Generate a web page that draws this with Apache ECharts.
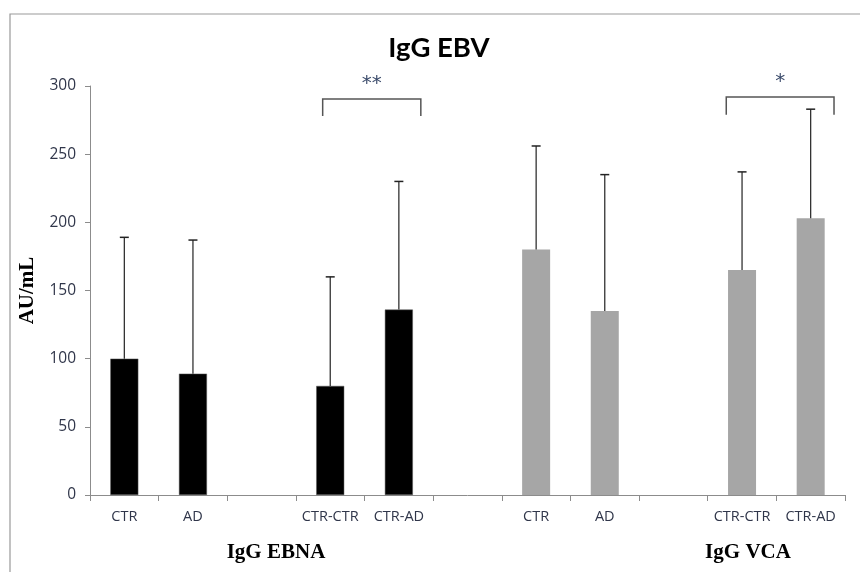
<!DOCTYPE html>
<html><head><meta charset="utf-8">
<script src="https://cdn.jsdelivr.net/npm/echarts@6/dist/echarts.min.js"></script>
<style>html,body{margin:0;padding:0;background:#fff}#c{width:860px;height:572px}</style>
</head><body><div id="c"></div>
<script>
const categories = ['CTR','AD','','CTR-CTR','CTR-AD','','CTR','AD','','CTR-CTR','CTR-AD'];
const ebnaMeans = [100, 89, '-', 80, 136, '-', '-', '-', '-', '-', '-'];
const vcaMeans  = ['-', '-', '-', '-', '-', '-', 180, 135, '-', 165, 203];
const upperErrors = [189, 187, null, 160, 230, null, 256, 235, null, 237, 283];
const yTicks = {min: 0, max: 300, interval: 50};
// brackets: [x start, x end (category units), top value, bottom value, label]
const brackets = [[3.39, 4.82, 290.5, 278, '**'], [9.27, 10.84, 292, 279, '*']];
const title = 'IgG EBV';
const yName = 'AU/mL';
const groupNames = ['IgG EBNA', 'IgG VCA'];

const errData = [];
categories.forEach((c, i) => {
  if (upperErrors[i] != null) {
    const m = ebnaMeans[i] !== '-' ? ebnaMeans[i] : vcaMeans[i];
    errData.push([i, m, upperErrors[i]]);
  }
});

const chart = echarts.init(document.getElementById('c'), null, {renderer: 'canvas'});
const labelFont = '"Open Sans", Lato, sans-serif';
chart.setOption({
  animation: false,
  backgroundColor: '#fff',
  graphic: [
    {type: 'rect', shape: {x: 10, y: 14, width: 900, height: 600}, style: {fill: null, stroke: '#999', lineWidth: 1.2}, silent: true, z: -1},
    {type: 'text', x: 439, y: 48, style: {text: title, align: 'center', verticalAlign: 'middle', font: 'bold 27.5px Lato, sans-serif', fill: '#000'}},
    {type: 'text', x: 276, y: 553, style: {text: groupNames[0], align: 'center', verticalAlign: 'middle', font: 'bold 21px "Liberation Serif", serif', fill: '#000'}},
    {type: 'text', x: 748, y: 553, style: {text: groupNames[1], align: 'center', verticalAlign: 'middle', font: 'bold 21px "Liberation Serif", serif', fill: '#000'}}
  ],
  grid: {left: 90, right: 15, top: 86, bottom: 77},
  xAxis: [{
    type: 'category', data: categories,
    axisLine: {lineStyle: {color: '#8c8c8c', width: 1}},
    axisTick: {show: true, length: 6, alignWithLabel: false, lineStyle: {color: '#8c8c8c'}},
    axisLabel: {interval: 0, margin: 14, fontFamily: labelFont, fontSize: 14.5, color: '#30364a'}
  }, {
    type: 'value', min: 0, max: categories.length, show: false
  }],
  yAxis: {
    type: 'value', min: yTicks.min, max: yTicks.max, interval: yTicks.interval,
    name: yName, nameLocation: 'middle', nameGap: 50, nameRotate: 90,
    nameTextStyle: {fontFamily: '"Liberation Serif", serif', fontWeight: 'bold', fontSize: 21, color: '#000'},
    axisLine: {show: true, lineStyle: {color: '#8c8c8c', width: 1}},
    axisTick: {show: true, length: 5, lineStyle: {color: '#8c8c8c'}},
    splitLine: {show: false},
    axisLabel: {margin: 14, fontFamily: labelFont, fontSize: 15.5, color: '#30364a'}
  },
  series: [
    {type: 'bar', name: 'EBNA', data: ebnaMeans, barWidth: 28, barGap: '-100%',
     itemStyle: {color: '#000', borderColor: '#5a5a5a', borderWidth: 0.5}},
    {type: 'bar', name: 'VCA', data: vcaMeans, barWidth: 28, barGap: '-100%',
     itemStyle: {color: '#a6a6a6'}},
    {type: 'custom', name: 'err', data: errData, z: 5,
     renderItem: (params, api) => {
       const x = api.value(0);
       const b = api.coord([x, api.value(1)]);
       const t = api.coord([x, api.value(2)]);
       return {type: 'group', children: [
         {type: 'line', shape: {x1: b[0], y1: b[1], x2: t[0], y2: t[1]}, style: {stroke: '#222', lineWidth: 1.2}},
         {type: 'line', shape: {x1: t[0] - 4.5, y1: t[1], x2: t[0] + 4.5, y2: t[1]}, style: {stroke: '#222', lineWidth: 1.5}}
       ]};
     }},
    {type: 'custom', name: 'brackets', xAxisIndex: 1, data: brackets, z: 5,
     renderItem: (params, api) => {
       const p1 = api.coord([api.value(0), api.value(2)]);
       const p2 = api.coord([api.value(1), api.value(2)]);
       const b1 = api.coord([api.value(0), api.value(3)]);
       const lab = brackets[params.dataIndex][4];
       return {type: 'group', children: [
         {type: 'polyline', shape: {points: [[p1[0], b1[1]], [p1[0], p1[1]], [p2[0], p2[1]], [p2[0], b1[1]]]},
          style: {stroke: '#555', lineWidth: 1.5, fill: null}},
         {type: 'text', style: {text: lab, x: (p1[0] + p2[0]) / 2, y: p1[1] - 15, align: 'center', verticalAlign: 'middle',
          font: '20px "DejaVu Sans", sans-serif', fill: '#3a4a6a'}}
       ]};
     }}
  ]
});
</script></body></html>
